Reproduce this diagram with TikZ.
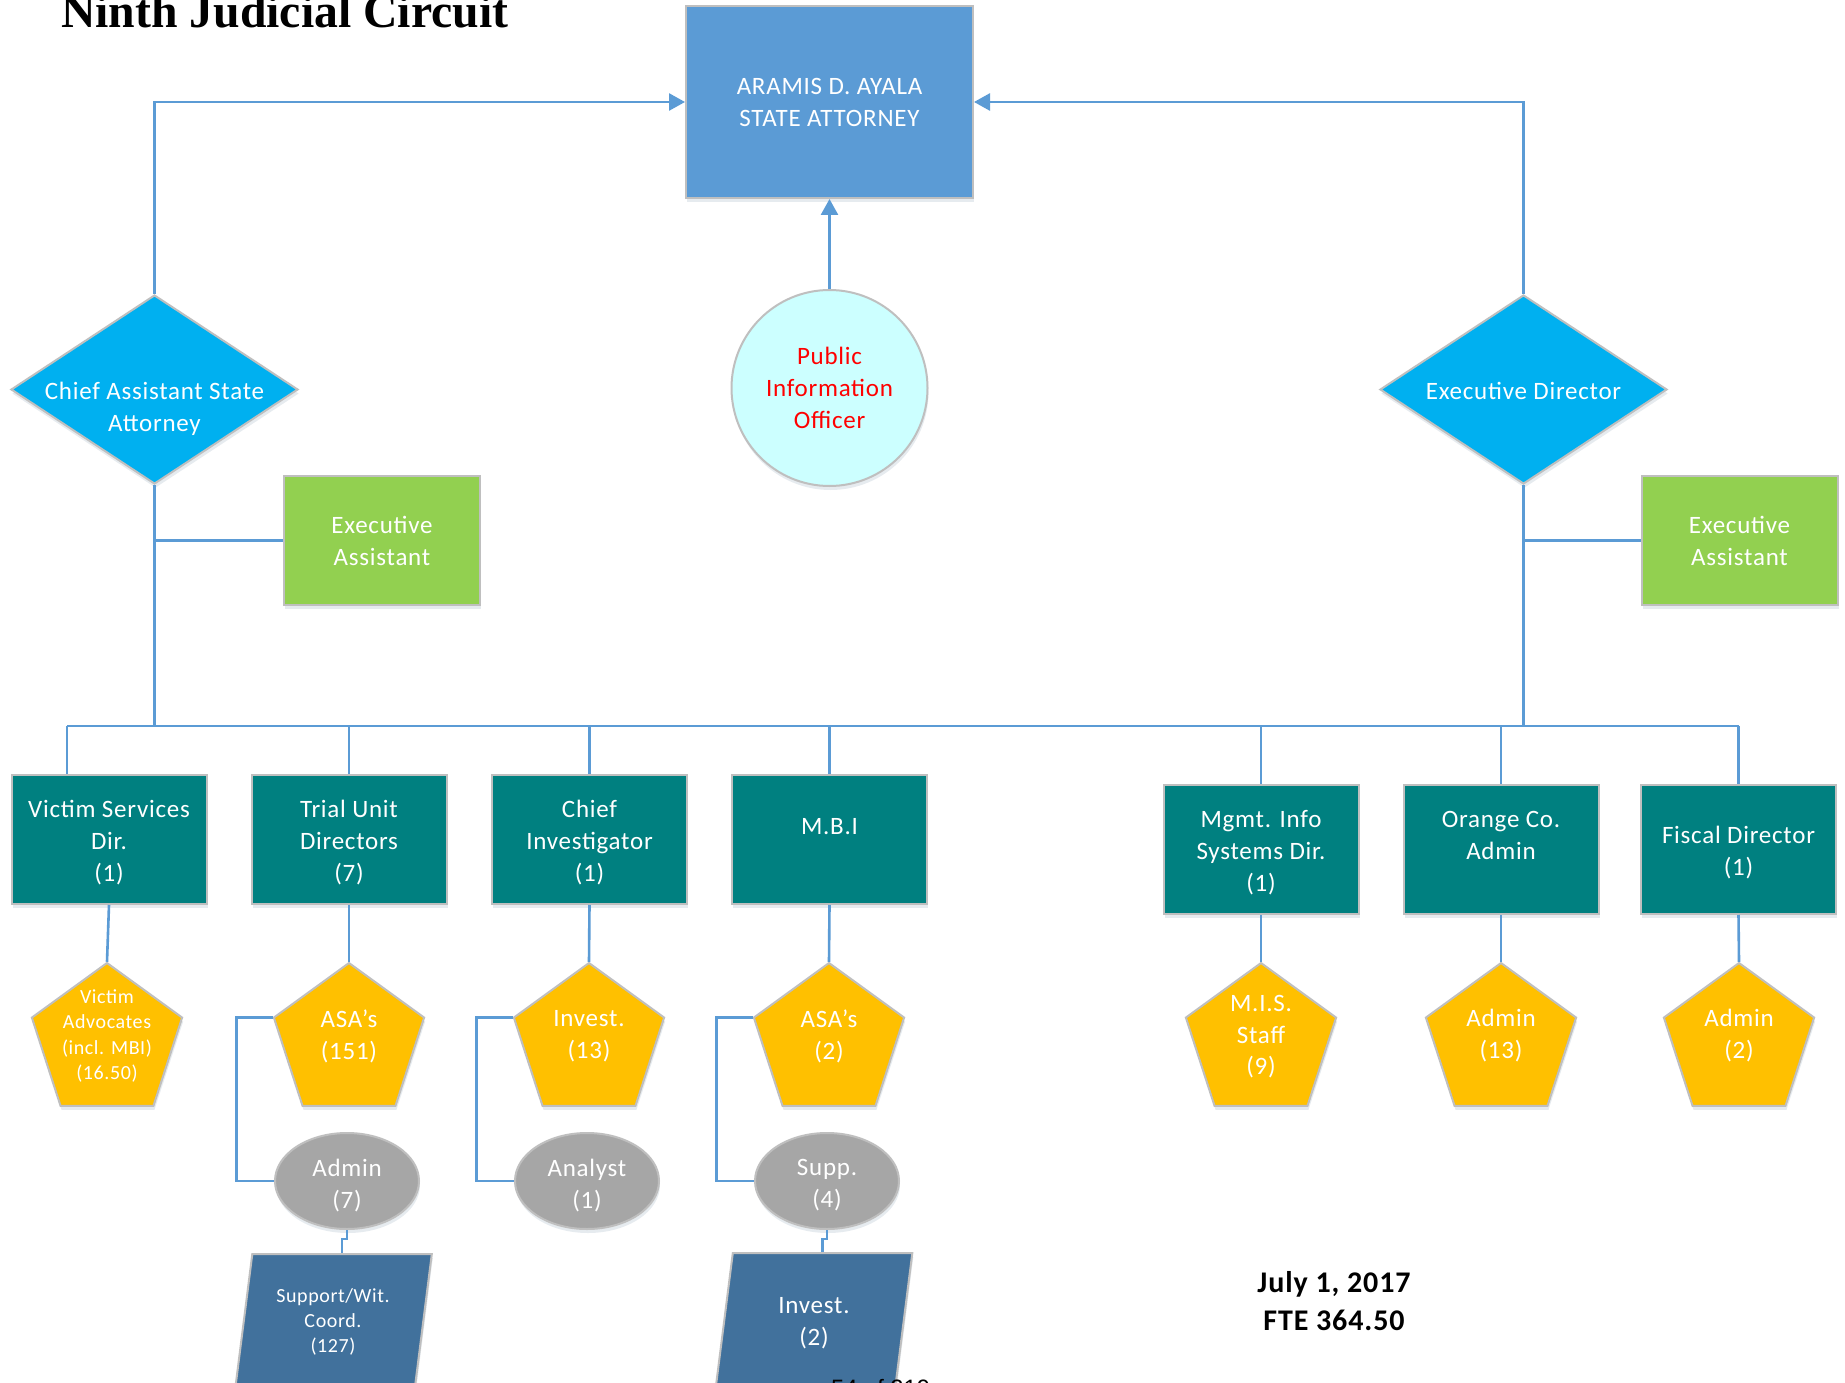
\documentclass[tikz,border=0pt]{standalone}
\usepackage{fontspec}
\setmainfont{Carlito}[LetterSpace=3]
\newfontfamily\titlefont{Liberation Serif}
\newfontfamily\pagefont{Liberation Sans}
\usetikzlibrary{shapes.geometric,arrows.meta,shadows}

\definecolor{linkblue}{HTML}{5B9BD5}
\definecolor{headblue}{HTML}{5B9BD5}
\definecolor{rimgray}{HTML}{BFBFBF}
\definecolor{cyanmain}{HTML}{00B0F0}
\definecolor{leafgreen}{HTML}{92D050}
\definecolor{tealbox}{HTML}{008080}
\definecolor{ambergold}{HTML}{FFC000}
\definecolor{stonegray}{HTML}{A6A6A6}
\definecolor{slateblue}{HTML}{41719C}
\definecolor{paleaqua}{HTML}{CCFFFF}
\definecolor{officered}{HTML}{FF0000}

\newcommand\fsz[2]{\fontsize{#1}{#2}\selectfont}

\tikzset{
  shapebase/.style={draw=rimgray, line width=2pt,
    drop shadow={shadow xshift=1pt, shadow yshift=-4pt, opacity=0.12, fill=linkblue!60!black}},
  boxshape/.style={shapebase, rectangle, inner sep=0pt, text=white, align=center, font=\fsz{25}{32}},
  headbox/.style={boxshape, fill=headblue, minimum width=287, minimum height=192},
  unitbox/.style={boxshape, fill=tealbox, minimum width=195, minimum height=129},
  aidebox/.style={boxshape, fill=leafgreen, minimum width=196, minimum height=129},
  rhomb/.style={shapebase, diamond, fill=cyanmain, minimum width=287, minimum height=189, inner sep=0pt},
  pent/.style={shapebase, regular polygon, regular polygon sides=5, minimum size=158, inner sep=0pt, fill=ambergold},
  oval/.style={shapebase, ellipse, fill=stonegray, minimum width=144, minimum height=96, inner sep=0pt},
  slant/.style={shapebase, trapezium, trapezium left angle=82, trapezium right angle=98,
    trapezium stretches=true, minimum width=197, minimum height=135, inner sep=0pt,
    fill=slateblue, font=\fsz{20}{25}},
  lbl/.style={text=white, align=center, inner sep=0pt, font=\fsz{25}{32}},
  smalllbl/.style={text=white, align=center, inner sep=0pt, font=\fsz{20}{25.5}},
  link/.style={draw=linkblue, line width=2.6pt},
  tip/.style={-{Triangle[length=16pt,width=17pt]}}
}

\begin{document}
\begin{tikzpicture}[x=1pt, y=-1pt]
\useasboundingbox (0,0) rectangle (1845,1383);
\clip (0,0) rectangle (1845,1383);
\fill[white] (0,0) rectangle (1845,1383);

% heading
\node[anchor=base west, inner sep=0pt, font=\titlefont\bfseries\fsz{47.7}{50}] (title) at (61,28) {Ninth Judicial Circuit};

% top level
\node[headbox] (sa) at (829.5,102) {ARAMIS D. AYALA\\STATE ATTORNEY};
\node[shapebase, circle, fill=paleaqua, minimum size=196, inner sep=0pt, align=center,
      text=officered, font=\fsz{25}{32}] (pio) at (829.5,388) {Public\\Information\\Officer};

\node[rhomb] (cas) at (154.5,389.5) {};
\node[lbl] (castxt) at (154.5,408.5) {Chief Assistant State\\Attorney};
\node[rhomb] (exd) at (1523.5,389.5) {};
\node[lbl] (exdtxt) at (1523.5,391) {Executive Director};

\node[aidebox] (eal) at (382,540.5) {Executive\\Assistant};
\node[aidebox] (ear) at (1739.5,540.5) {Executive\\Assistant};

% divisions
\node[unitbox] (vsd) at (109,839.5) {};
\node[lbl] (vsdtxt) at (109,843) {Victim Services\\Dir.\\(1)};
\node[unitbox] (tud) at (349,839.5) {};
\node[lbl] (tudtxt) at (349,843) {Trial Unit\\Directors\\(7)};
\node[unitbox] (cid) at (589.5,839.5) {};
\node[lbl] (cidtxt) at (589.5,843) {Chief\\Investigator\\(1)};
\node[unitbox] (mbi) at (829.5,839.5) {};
\node[lbl] (mbitxt) at (829.5,827) {M.B.I};
\node[unitbox] (mis) at (1261,849.5) {};
\node[lbl] (mistxt) at (1261,853) {Mgmt. Info\\Systems Dir.\\(1)};
\node[unitbox] (ocd) at (1501,849.5) {};
\node[lbl] (ocdtxt) at (1501,835) {Orange Co.\\Admin};
\node[unitbox] (fis) at (1738.5,849.5) {};
\node[lbl] (fistxt) at (1738.5,853) {Fiscal Director\\(1)};

% staff pentagons
\node[pent] (vap) at (107,1042) {};
\node[smalllbl] (vaptxt) at (107,1036) {Victim\\Advocates\\(incl. MBI)\\(16.50)};
\node[pent] (asaa) at (349,1042) {};
\node[lbl] (asaatxt) at (349,1036) {ASA’s\\(151)};
\node[pent] (inva) at (589,1042) {};
\node[lbl] (invatxt) at (589,1036) {Invest.\\(13)};
\node[pent] (asab) at (829,1042) {};
\node[lbl] (asabtxt) at (829,1036) {ASA’s\\(2)};
\node[pent] (misp) at (1261,1042) {};
\node[lbl, font=\fsz{25}{31.5}] (misptxt) at (1261,1037) {M.I.S.\\Staff\\(9)};
\node[pent] (adpa) at (1501,1042) {};
\node[lbl] (adpatxt) at (1501,1036) {Admin\\(13)};
\node[pent] (adpb) at (1739,1042) {};
\node[lbl] (adpbtxt) at (1739,1036) {Admin\\(2)};

% support ellipses
\node[oval] (adm) at (347,1181) {};
\node[lbl] (admtxt) at (347,1185.5) {Admin\\(7)};
\node[oval] (ana) at (587,1181) {};
\node[lbl] (anatxt) at (587,1185.5) {Analyst\\(1)};
\node[oval] (sup) at (827,1181) {};
\node[lbl] (suptxt) at (827,1185.5) {Supp.\\(4)};

% lower staff
\node[slant] (swc) at (333.5,1321.5) {\phantom{M}};
\node[smalllbl, font=\fsz{20}{25}] (swctxt) at (333,1322) {Support/Wit.\\Coord.\\(127)};
\node[slant] (ivb) at (814,1320.5) {\phantom{M}};
\node[lbl] (ivbtxt) at (814,1323.5) {Invest.\\(2)};

% date and count
\node[inner sep=0pt, align=center, font=\bfseries\fsz{30}{38}] (stamp) at (1334,1301) {July 1, 2017\\FTE 364.50};

% page number
\node[anchor=base west, inner sep=0pt, font=\pagefont\fsz{23.7}{28}] (pageno) at (831,1396) {54 of 219};

% reporting lines to the State Attorney
\draw[link, tip] (cas.north) |- (sa.west);
\draw[link, tip] (exd.north) |- (sa.east);
\draw[link, tip] (pio.north) -- (sa.south);

% trunks, assistants and bus
\coordinate (busL) at (67,726);
\coordinate (busR) at (1739,726);
\draw[link] (cas.south) -- (cas.south |- busL);
\draw[link] (exd.south) -- (exd.south |- busR);
\draw[link] (eal.west) -- (eal.west -| cas.south);
\draw[link] (ear.west) -- (ear.west -| exd.south);
\draw[link] (busL) -- (busR);

\draw[link] (busL) -- (busL |- vsd.north);
\draw[link] (tud.north |- busL) -- (tud.north);
\draw[link] (cid.north |- busL) -- (cid.north);
\draw[link] (mbi.north |- busL) -- (mbi.north);
\draw[link] (mis.north |- busL) -- (mis.north);
\draw[link] (ocd.north |- busL) -- (ocd.north);
\draw[link] (fis.north |- busL) -- (fis.north);

% divisions to staff
\draw[link] (vsd.south) -- (vap.corner 1);
\draw[link] (tud.south) -- (asaa.corner 1);
\draw[link] (cid.south) -- (inva.corner 1);
\draw[link] (mbi.south) -- (asab.corner 1);
\draw[link] (mis.south) -- (misp.corner 1);
\draw[link] (ocd.south) -- (adpa.corner 1);
\draw[link] (fis.south) -- (adpb.corner 1);

% staff to support
\draw[link] (asaa.corner 2) -- ++(-36,0) |- (adm.west);
\draw[link] (inva.corner 2) -- ++(-36,0) |- (ana.west);
\draw[link] (asab.corner 2) -- ++(-36,0) |- (sup.west);
\draw[link] (adm.south) -- ++(0,9) -| (swc.top side);
\draw[link] (sup.south) -- ++(0,9) -| (ivb.top side);
\end{tikzpicture}
\end{document}
